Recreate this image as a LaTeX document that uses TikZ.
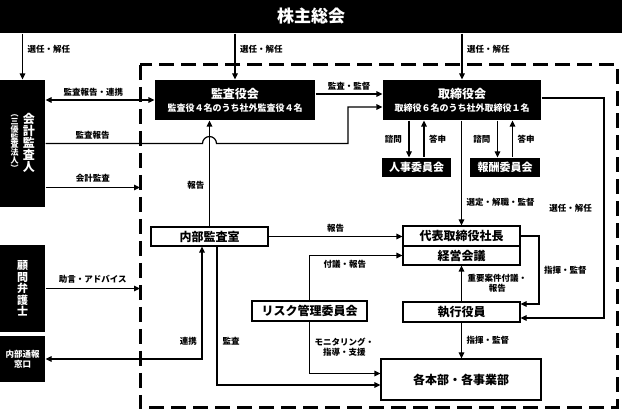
\documentclass[tikz,border=0pt]{standalone}
\usepackage{fontspec}
\setmainfont{Noto Sans CJK JP}
\usetikzlibrary{arrows.meta,calc,positioning}

\begin{document}
\begin{tikzpicture}[x=1pt, y=-1pt, line width=1.2pt, >={Triangle[length=6pt,width=5.5pt]}]
		\useasboundingbox (0,0) rectangle (622,414);

		% frame of the company
		\draw [line width=3pt, dash pattern=on 15pt off 7pt] (140,65) rectangle (617,408);
		\coordinate (w1) at (140,187.5);
		\coordinate (w2) at (140,288.5);

		\tikzstyle{every node} = [inner sep=0pt, align=center, font=\bfseries\fontsize{12}{12}\selectfont]
		\tikzstyle{kuro} = [fill=black, text=white]
		\tikzstyle{shiro} = [draw, fill=white]

		\node [kuro, minimum width=622pt, minimum height=33pt, font=\bfseries\fontsize{17}{17}\selectfont] (soukai) at (311,16.5) {株主総会};
		\node [kuro, minimum width=45pt, minimum height=127pt] (kaikei) at (22.5,143.5) {};
		\node [text=white] (kaikeiA) at (29,143) {会\\計\\監\\査\\人};
		\node [text=white, font=\bfseries\fontsize{8}{7.8}\selectfont] (kaikeiB) at (14.5,143) {︵\\三\\優\\監\\査\\法\\人\\︶};
		\node [kuro, minimum width=45pt, minimum height=87pt, font=\bfseries\fontsize{11}{11.5}\selectfont] (komon) at (22.5,288.5) {顧\\問\\弁\\護\\士};
		\node [kuro, minimum width=45pt, minimum height=46pt, font=\bfseries\fontsize{8.5}{10}\selectfont] (tsuho) at (22.5,359) {内部通報\\窓口};

		\node [kuro, minimum width=160pt, minimum height=40pt] (kansayaku) at (235,100) {監査役会\\[1pt]{\fontsize{9}{9}\selectfont 監査役４名のうち社外監査役４名}};
		\node [kuro, minimum width=158pt, minimum height=40pt] (torishimari) at (462,100) {取締役会\\[1pt]{\fontsize{9}{9}\selectfont 取締役６名のうち社外取締役１名}};
		\node [kuro, minimum width=69pt, minimum height=19pt, font=\bfseries\fontsize{11}{11}\selectfont] (jinji) at (416.5,167.5) {人事委員会};
		\node [kuro, minimum width=70pt, minimum height=19pt, font=\bfseries\fontsize{11}{11}\selectfont] (hoshu) at (505,167.5) {報酬委員会};

		\node [shiro, minimum width=117pt, minimum height=20pt] (daihyo) at (461.5,236) {代表取締役社長};
		\node [shiro, minimum width=117pt, minimum height=19pt] (keiei) at (461.5,255.5) {経営会議};
		\node [shiro, minimum width=117pt, minimum height=20pt] (shikko) at (461.5,312) {執行役員};
		\node [shiro, minimum width=160pt, minimum height=41pt] (honbu) at (461,379.5) {各本部・各事業部};
		\node [shiro, minimum width=117pt, minimum height=19pt] (naibu) at (209.5,236.5) {内部監査室};
		\node [shiro, minimum width=115pt, minimum height=20pt] (risk) at (309.5,311) {リスク管理委員会};

		\tikzstyle{every node} = [inner sep=1.5pt, align=center, font=\bfseries\fontsize{8.5}{10}\selectfont]
		\draw [->] (soukai.south -| kaikei.north) -- node [right=3pt, pos=.34] (l1) {選任・解任} (kaikei.north);
		\draw [->] (soukai.south -| kansayaku.north) -- node [right=3pt, pos=.34] (l2) {選任・解任} (kansayaku.north);
		\draw [->] (soukai.south -| torishimari.north) -- node [right=3pt, pos=.34] (l3) {選任・解任} (torishimari.north);

		\draw [<->] (kaikei.east |- kansayaku.west) -- node [above=2pt, pos=.44] (l4) {監査報告・連携} (kansayaku.west);
		\draw [->] (kaikei.east) -- node [above=2pt, pos=.3] (l5) {監査報告} ($(naibu.north |- kaikei.east)+(-7,0)$)
			arc [start angle=180, end angle=360, radius=7] -- (348,143.5) |- ($(torishimari.west)+(0,7)$);
		\draw [->] ($(kansayaku.east)+(0,-6)$) -- node [above=2pt] (l6) {監査・監督} ($(torishimari.west)+(0,-6)$);
		\draw [->] (kaikei.east |- w1) -- node [above=3pt] (l7) {会計監査} (w1);
		\draw [->] (komon.east |- w2) -- node [above=3pt] (l8) {助言・アドバイス} (w2);

		\draw [->] ($(torishimari.south -| jinji.north)+(-7.5,0)$) -- node [left=5pt] (l9) {諮問} ($(jinji.north)+(-7.5,0)$);
		\draw [<-] ($(torishimari.south -| jinji.north)+(7.5,0)$) -- node [right=3pt] (l10) {答申} ($(jinji.north)+(7.5,0)$);
		\draw [->] ($(torishimari.south -| hoshu.north)+(-7.5,0)$) -- node [left=5pt] (l11) {諮問} ($(hoshu.north)+(-7.5,0)$);
		\draw [<-] ($(torishimari.south -| hoshu.north)+(7.5,0)$) -- node [right=3pt] (l12) {答申} ($(hoshu.north)+(7.5,0)$);

		\draw [->] (torishimari.south -| daihyo.north) -- node [right=3pt, pos=.78] (l13) {選定・解職・監督} (daihyo.north);
		\draw [->] ($(torishimari.east)+(0,-2)$) -- (604,98) -- node [left=10pt] (l14) {選任・解任} (604,318) -- ($(shikko.east)+(0,6)$);
		\draw [->] (daihyo.east) -- (539,236) -- node [right=3pt] (l15) {指揮・監督} (539,304) -- ($(shikko.east)+(0,-8)$);
		\draw [->] (shikko.north) -- node [right=4pt] (l16) {重要案件付議・\\報告} (keiei.south);
		\draw [->] (shikko.south) -- node [right=3pt] (l17) {指揮・監督} (shikko.south |- honbu.north);

		\draw [->] (naibu.north) -- node [left=3pt, pos=.39] (l18) {報告} (naibu.north |- kansayaku.south);
		\draw [->] (naibu.east) -- node [above=2pt] (l19) {報告} (naibu.east -| daihyo.west);
		\draw [->] (risk.north) |- node [below=3pt, pos=.69] (l20) {付議・報告} (keiei.west);
		\draw [->] (risk.south) |- node [right=3pt, pos=.25] (l21) {モニタリング・\\指導・支援} ($(honbu.west)+(0,-6)$);
		\draw [->] ($(naibu.south)+(7.5,0)$) |- node [right=3.5pt, pos=.34] (l22) {監査} ($(honbu.west)+(0,5.5)$);
		\draw [<->] ($(naibu.south)+(-7.5,0)$) |- node [left=3pt, pos=.42] (l23) {連携} (tsuho.east);
\end{tikzpicture}
\end{document}
